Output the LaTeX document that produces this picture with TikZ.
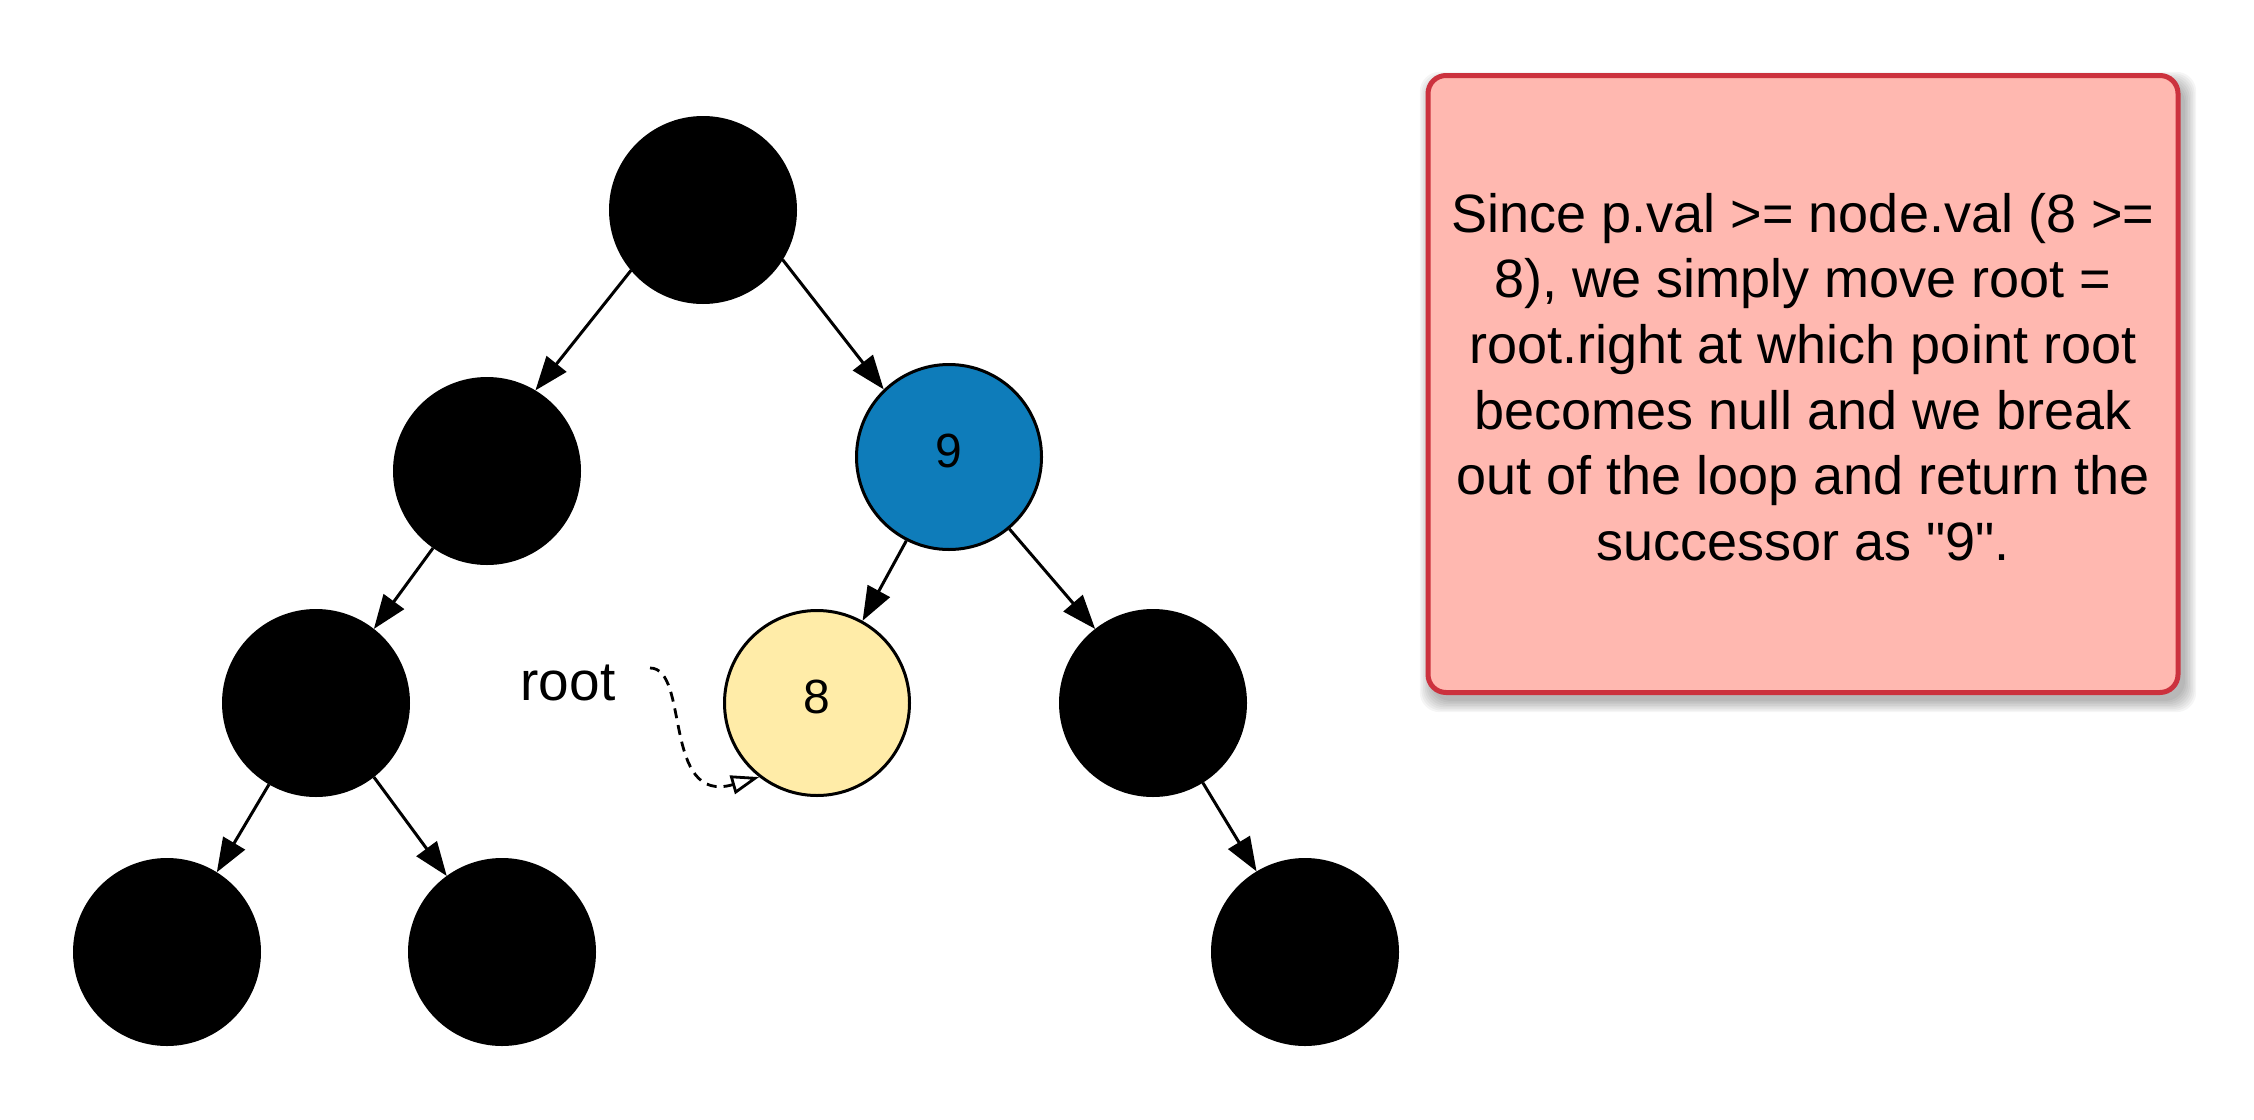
\documentclass[tikz,border=0pt]{standalone}
\usepackage{fontspec}
\setmainfont{Liberation Sans}[Ligatures=TeXOff]
\usetikzlibrary{arrows.meta}
\definecolor{nodeblue}{RGB}{14,124,186}
\definecolor{nodeyellow}{RGB}{255,236,168}
\definecolor{boxfill}{RGB}{255,184,176}
\definecolor{boxborder}{RGB}{204,50,62}
\begin{document}
\begin{tikzpicture}[x=0.5pt,y=-0.5pt,
  tnode/.style={circle,draw=black,line width=1.5pt,minimum size=92.5pt,inner sep=0pt,text depth=6pt,font=\fontsize{24}{28}\selectfont},
  blacknode/.style={tnode,fill=black},
  bluenode/.style={tnode,fill=nodeblue},
  yellownode/.style={tnode,fill=nodeyellow},
  treeedge/.style={line width=1.5pt,-{Triangle[length=17pt,width=12.5pt]}},
  rootedge/.style={line width=1.4pt,dash pattern=on 5pt off 3.5pt,-{Triangle[open,fill=white,length=14pt,width=9.5pt]}},
  notebox/.style={draw=boxborder,fill=boxfill,line width=2.5pt,rounded corners=9pt,minimum width=375pt,minimum height=308.5pt,inner sep=0pt},
  notetextstyle/.style={inner sep=0pt,align=center,font=\fontsize{27}{32.8}\selectfont},
  lbl/.style={font=\fontsize{27.5}{32}\selectfont,inner sep=0pt}]
\useasboundingbox (0,0) rectangle (2254,1119);
% shadow of the note
\foreach \i in {0,...,7}{
  \fill[black,opacity=0.04,rounded corners=10pt] ({1431-\i*1.6},{83-\i*1.6}) rectangle ({2185+\i*1.6},{701+\i*1.6});
}
\node[notebox] (note) at (1803,384) {};
\node[notetextstyle] (notetext) at (1803,377) {Since p.val >= node.val (8 >=\\8), we simply move root =\\root.right at which point root\\becomes null and we break\\out of the loop and return the\\successor as "9".};
% tree
\node[blacknode] (A) at (703,210) {};
\node[blacknode] (B) at (487,471) {};
\node[bluenode] (C) at (949,457) {9};
\node[blacknode] (D) at (316,703) {};
\node[yellownode] (E) at (817,703) {8};
\node[blacknode] (F) at (1153,703) {};
\node[blacknode] (G) at (167,952) {};
\node[blacknode] (H) at (502,952) {};
\node[blacknode] (I) at (1305,952) {};
\draw[treeedge] (A.-140) -- (B.59);
\draw[treeedge] (A.-32) -- (C.134.6);
\draw[treeedge] (B.-125.5) -- (D.52.7);
\draw[treeedge] (C.-117.4) -- (E.61.3);
\draw[treeedge] (C.-50) -- (F.128.5);
\draw[treeedge] (D.-120.3) -- (G.58);
\draw[treeedge] (D.-52.5) -- (H.126.3);
\draw[treeedge] (F.-58) -- (I.121);
% root label and pointer
\node[lbl,anchor=base] (rootlbl) at (568,700) {root};
\coordinate (rs) at (650,668);
\draw[rootedge] (rs) .. controls (690,668) and (662,805) .. (E.-128);
\end{tikzpicture}
\end{document}
